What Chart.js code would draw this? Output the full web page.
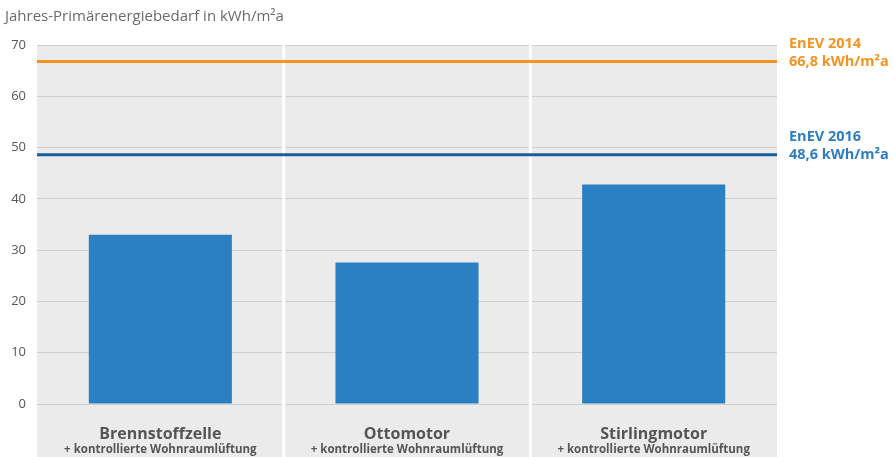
<!DOCTYPE html>
<html><head><meta charset="utf-8">
<script src="https://cdn.jsdelivr.net/npm/chart.js@4/dist/chart.umd.min.js"></script>
<style>html,body{margin:0;padding:0;background:#fff;}#wrap{width:893px;height:457px;position:relative;}</style>
</head><body><div id="wrap"><canvas id="c" width="893" height="457"></canvas></div>
<script>
const categories = ["Brennstoffzelle", "Ottomotor", "Stirlingmotor"];
const subLabel = "+ kontrollierte Wohnraumlüftung";
const values = [33.0, 27.6, 42.8];
const yTicks = [0, 10, 20, 30, 40, 50, 60, 70];
const limitValues = [66.8, 48.6];
const limitNames = ["EnEV 2014", "EnEV 2016"];
const limitTexts = ["66,8 kWh/m²a", "48,6 kWh/m²a"];
const yTitle = "Jahres-Primärenergiebedarf in kWh/m²a";

const FONT = "'Open Sans', 'Noto Sans', sans-serif";
const limitLineColors = ["#f29422", "#1d5c9e"];
const limitTextColors = ["#f29422", "#2e7dc1"];

const decor = {
  id: 'decor',
  beforeDraw(chart) {
    const {ctx, chartArea: a} = chart;
    ctx.save();
    ctx.fillStyle = '#ebebeb';
    ctx.fillRect(a.left, a.top, a.right - a.left, chart.height - a.top);
    ctx.restore();
  },
  afterDatasetsDraw(chart) {
    const {ctx, chartArea: a, scales: {x, y}} = chart;
    ctx.save();
    ctx.strokeStyle = '#ffffff';
    ctx.lineWidth = 3;
    for (let i = 1; i < categories.length; i++) {
      const px = (x.getPixelForValue(i - 1) + x.getPixelForValue(i)) / 2;
      ctx.beginPath(); ctx.moveTo(px, a.top); ctx.lineTo(px, chart.height); ctx.stroke();
    }
    limitValues.forEach((v, i) => {
      const py = y.getPixelForValue(v);
      ctx.strokeStyle = limitLineColors[i];
      ctx.lineWidth = 3;
      ctx.beginPath(); ctx.moveTo(a.left, py); ctx.lineTo(a.right, py); ctx.stroke();
      ctx.fillStyle = limitTextColors[i];
      ctx.font = "bold 14.5px " + FONT;
      ctx.textAlign = 'left';
      ctx.textBaseline = 'middle';
      ctx.fillText(limitNames[i], a.right + 12, py - 18);
      ctx.fillText(limitTexts[i], a.right + 12, py);
    });
    ctx.fillStyle = '#555555';
    ctx.textAlign = 'center';
    ctx.textBaseline = 'middle';
    categories.forEach((c, i) => {
      const px = x.getPixelForValue(i);
      ctx.font = "bold 16px " + FONT;
      ctx.fillText(c, px, a.bottom + 30);
      ctx.font = "bold 11.5px " + FONT;
      ctx.fillText(subLabel, px, a.bottom + 46);
    });
    ctx.fillStyle = '#6a6a6a';
    ctx.font = "15px " + FONT;
    ctx.textAlign = 'left';
    ctx.fillText(yTitle, 5, 17);
    ctx.restore();
  }
};

new Chart(document.getElementById('c'), {
  type: 'bar',
  data: {
    labels: categories,
    datasets: [{
      data: values,
      backgroundColor: '#2a80c2',
      borderWidth: 0,
      categoryPercentage: 1.0,
      barPercentage: 0.58
    }]
  },
  options: {
    responsive: false,
    animation: false,
    devicePixelRatio: 1,
    layout: {padding: {top: 45, right: 116, bottom: 45, left: 0}},
    plugins: {legend: {display: false}, tooltip: {enabled: false}},
    scales: {
      x: {
        offset: true,
        grid: {display: false},
        border: {display: false},
        ticks: {display: false}
      },
      y: {
        min: 0, max: 70,
        afterFit(s) { s.width = 37; },
        afterBuildTicks(s) { s.ticks = yTicks.map(v => ({value: v})); },
        grid: {color: '#cfcfcf', lineWidth: 1, drawTicks: false},
        border: {display: false},
        ticks: {color: '#555555', font: {family: FONT, size: 13}, padding: 11}
      }
    }
  },
  plugins: [decor]
});
</script>
</body></html>
